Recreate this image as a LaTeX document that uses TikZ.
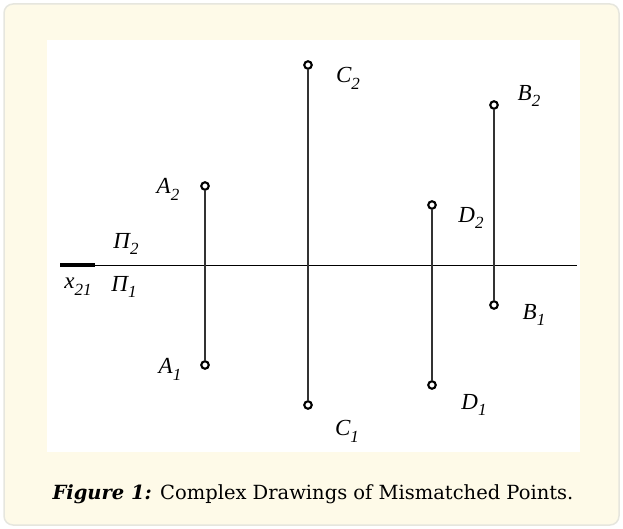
\documentclass[tikz,border=0pt]{standalone}
\usepackage{fontspec}
\setmainfont{Liberation Serif}
\newfontfamily\lblfont{Liberation Serif}
\newfontfamily\capfont{DejaVu Serif}
\usetikzlibrary{positioning}
\definecolor{paper}{RGB}{254,250,232}
\definecolor{rim}{RGB}{230,230,222}
\newcommand{\lsub}[1]{\raisebox{-0.3em}{\fontsize{17}{17}\selectfont #1}}

\begin{document}
\begin{tikzpicture}[x=1pt, y=-1pt,
  pnt/.style={circle, draw, line width=2.1pt, fill=white, inner sep=0pt, minimum size=7.5pt},
  lbl/.style={font=\lblfont\fontsize{23}{23}\selectfont\itshape, inner sep=0pt},
  link/.style={line width=1.3pt, draw=black!80},
]
  \useasboundingbox (0,0) rectangle (623,529);
  % Frame
  \draw[rim, fill=paper, line width=1.5pt, rounded corners=9pt] (4,4) rectangle (619,525);
  \fill[white] (47,40) rectangle (580,452);

  % Axis
  \coordinate (ax0) at (60,265);
  \coordinate (axt) at (95,265);
  \coordinate (ax1) at (577,265);
  \draw[line width=1pt] (ax0) -- (ax1);
  \draw[line width=3.5pt] (ax0) -- (axt);
  \node[lbl] (x21) at (78,287) {x\lsub{21}};
  \node[lbl] (pi2) at (126,244) {Π\lsub{2}};
  \node[lbl] (pi1) at (124,287) {Π\lsub{1}};

  % Points
  \node[pnt] (a2) at (205,186) {};
  \node[pnt] (a1) at (205,365) {};
  \node[pnt] (c2) at (308,65) {};
  \node[pnt] (c1) at (308,405) {};
  \node[pnt] (d2) at (432,205) {};
  \node[pnt] (d1) at (432,385) {};
  \node[pnt] (b2) at (494,105) {};
  \node[pnt] (b1) at (494,305) {};

  % Lines of connection
  \draw[link] (a2) -- (a1);
  \draw[link] (c2) -- (c1);
  \draw[link] (d2) -- (d1);
  \draw[link] (b2) -- (b1);

  % Labels
  \node[lbl] (la2) at (168,189) {A\lsub{2}};
  \node[lbl] (la1) at (170,369) {A\lsub{1}};
  \node[lbl] (lc2) at (348,78) {C\lsub{2}};
  \node[lbl] (lc1) at (347,431) {C\lsub{1}};
  \node[lbl] (ld2) at (471,218) {D\lsub{2}};
  \node[lbl] (ld1) at (474,405) {D\lsub{1}};
  \node[lbl] (lb2) at (529,96) {B\lsub{2}};
  \node[lbl] (lb1) at (534,315) {B\lsub{1}};

  % Caption
  \node[font=\capfont\fontsize{19.5}{19.5}\selectfont] (cap) at (313,494)
    {\textbf{\textit{Figure 1:}} Complex Drawings of Mismatched Points.};
\end{tikzpicture}
\end{document}
